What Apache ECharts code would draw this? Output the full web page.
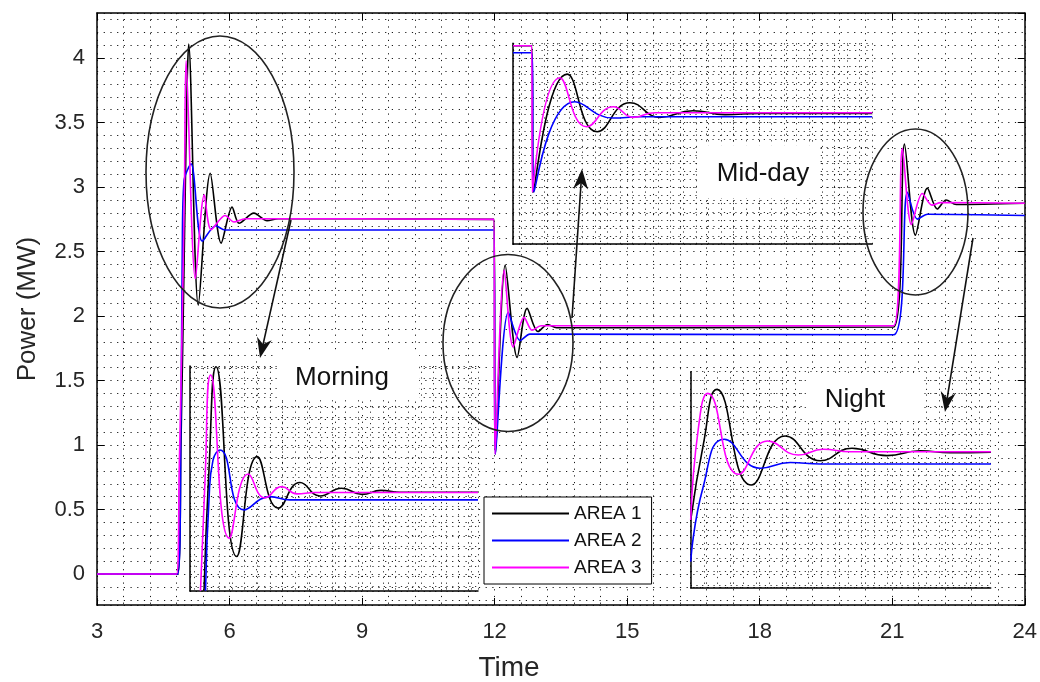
<!DOCTYPE html>
<html><head><meta charset="utf-8">
<script src="https://cdn.jsdelivr.net/npm/echarts@6/dist/echarts.min.js"></script>
<style>html,body{margin:0;padding:0;background:#fff}#c{width:1040px;height:682px}</style>
</head><body><div id="c"></div>
<script>
// ---------- data ----------
const seriesNames = ['AREA 1', 'AREA 2', 'AREA 3'];
const seriesColors = ['#000000', '#0000ff', '#ff00ff'];
const xTitle = 'Time';
const yTitle = 'Power (MW)';
const xMin = 3, xMax = 24, xStep = 3;
const yMin = -0.24, yMax = 4.35;
const labelMorning = 'Morning', labelMidday = 'Mid-day', labelNight = 'Night';

// main chart series [time, MW]
const area1Main = [[3,0],[4.82,0],[4.90,1.0],[4.98,2.6],[5.04,3.8],[5.075,4.11],[5.293,2.085],[5.563,3.108],[5.81,2.566],[6.058,2.845],[6.215,2.72],[6.552,2.798],[6.85,2.74],[7.1,2.755],[11.98,2.75],[12.02,0.93],[12.24,2.395],[12.51,1.68],[12.735,2.06],[12.98,1.88],[13.2,1.935],[13.4,1.91],[21.03,1.915],[21.278,3.333],[21.525,2.628],[21.795,2.992],[22.02,2.83],[22.22,2.90],[22.45,2.865],[24,2.875]];
const area2Main = [[3,0],[4.83,0],[4.90,1.2],[4.93,2.5],[4.97,3.05],[5.13,3.18],[5.383,2.58],[5.69,2.70],[5.9,2.667],[11.98,2.667],[12.02,0.93],[12.31,2.03],[12.58,1.81],[12.8,1.86],[21.03,1.855],[21.345,2.96],[21.57,2.752],[21.8,2.79],[24,2.78]];
const area3Main = [[3,0],[4.80,0],[4.86,0.8],[4.92,1.8],[4.98,3.0],[5.016,3.98],[5.226,2.29],[5.428,2.94],[5.585,2.67],[5.90,2.78],[6.10,2.73],[6.35,2.755],[11.98,2.75],[12.01,0.93],[12.218,2.357],[12.42,1.76],[12.667,1.99],[12.85,1.89],[13.05,1.925],[21.03,1.925],[21.23,3.30],[21.435,2.71],[21.68,2.95],[21.9,2.86],[22.1,2.88],[24,2.875]];

// morning inset (zoom of the 5 h transient)
const area1Morning = [[4.917,1.752],[4.976,2.972],[5.06,4.013],[5.306,2.098],[5.551,3.106],[5.801,2.586],[6.06,2.844],[6.298,2.709],[6.556,2.787],[6.798,2.725],[7.024,2.765],[7.25,2.747],[8.18,2.747]];
const area2Morning = [[4.935,1.752],[4.976,2.669],[5.024,3.07],[5.107,3.173],[5.393,2.568],[5.702,2.702],[5.94,2.669],[8.18,2.669]];
const area3Morning = [[4.875,1.752],[4.929,2.871],[4.996,3.929],[5.218,2.283],[5.444,2.931],[5.643,2.689],[5.842,2.803],[6.024,2.730],[6.238,2.743],[8.18,2.743]];

// mid-day inset (zoom of the 12 h transient)
const area1Midday = [[11.85,2.75],[11.998,2.75],[12.012,0.944],[12.28,2.40],[12.518,1.688],[12.778,2.046],[13.016,1.866],[13.278,1.948],[13.532,1.90],[13.81,1.915],[14.7,1.915]];
const area2Midday = [[11.85,2.664],[11.998,2.664],[12.016,0.944],[12.341,2.059],[12.643,1.857],[12.857,1.873],[14.7,1.873]];
const area3Midday = [[11.85,2.75],[11.998,2.75],[12.004,0.944],[12.222,2.355],[12.434,1.75],[12.645,1.997],[12.804,1.866],[12.976,1.923],[14.7,1.923]];

// night inset (zoom of the 21 h transient)
const area1Night = [[21.1,2.376],[21.198,2.936],[21.3,3.330],[21.562,2.632],[21.821,2.990],[22.089,2.809],[22.331,2.900],[22.598,2.846],[22.852,2.882],[23.08,2.867],[23.392,2.871]];
const area2Night = [[21.1,2.072],[21.195,2.617],[21.356,2.966],[21.631,2.754],[21.86,2.796],[22.089,2.785],[23.392,2.785]];
const area3Night = [[21.1,2.376],[21.16,3.057],[21.231,3.301],[21.465,2.710],[21.686,2.953],[21.921,2.851],[22.111,2.893],[22.318,2.875],[23.392,2.875]];

// ---------- chart ----------
const FONT = '"Liberation Sans", Arial, sans-serif';
const dotMain = {type:[1.2,5.5], color:'#000', width:1, opacity:0.9};
const dotInset = {type:[1.2,4.5], color:'#000', width:1, opacity:0.8};
const frameLine = {color:'#000', width:1.5};

function mainX(pos, labels){
  return {gridIndex:0, type:'value', position:pos, min:xMin, max:xMax, interval:xStep,
    axisLine:{show:true, onZero:false, lineStyle:frameLine},
    axisTick:{show:true, inside:true, length:7, lineStyle:{color:'#000', width:1}},
    axisLabel:{show:labels, margin:16, fontSize:22, color:'#262626', fontFamily:FONT},
    splitLine:{show:labels, lineStyle:dotMain},
    minorTick:{show:false, splitNumber:5},
    minorSplitLine:{show:labels, lineStyle:dotMain}};
}
function mainY(pos, labels){
  return {gridIndex:0, type:'value', position:pos, min:yMin, max:yMax, splitNumber:9,
    axisLine:{show:true, onZero:false, lineStyle:frameLine},
    axisTick:{show:true, inside:true, length:7, lineStyle:{color:'#000', width:1}},
    axisLabel:{show:labels, margin:12, fontSize:22, color:'#262626', fontFamily:FONT, showMinLabel:false, showMaxLabel:false},
    splitLine:{show:labels, lineStyle:dotMain},
    minorTick:{show:false, splitNumber:5},
    minorSplitLine:{show:labels, lineStyle:dotMain}};
}
function insetAxis(kind, g, mn, mx, sn){
  return {gridIndex:g, type:'value', min:mn, max:mx, splitNumber:sn,
    axisLine:{show:true, onZero:false, lineStyle:frameLine},
    axisTick:{show:false}, axisLabel:{show:false},
    splitLine:{show:true, lineStyle:dotInset},
    minorTick:{show:false, splitNumber:2},
    minorSplitLine:{show:true, lineStyle:dotInset}};
}
function line(i, data, xi, yi, smooth){
  return {name:seriesNames[i], type:'line', xAxisIndex:xi, yAxisIndex:yi, data:data,
    showSymbol:false, symbol:'none', smooth:smooth, clip:true,
    lineStyle:{color:seriesColors[i], width:1.6}, itemStyle:{color:seriesColors[i]}, z:3};
}
function arrow(x1,y1,x2,y2){
  const dx=x2-x1, dy=y2-y1, L=Math.hypot(dx,dy), ux=dx/L, uy=dy/L, hl=20, hw=7.5;
  const bx=x2-ux*hl, by=y2-uy*hl;
  return [
    {type:'line', shape:{x1:x1,y1:y1,x2:bx+ux*6,y2:by+uy*6}, style:{stroke:'#111', lineWidth:1.6}, z:60},
    {type:'polygon', shape:{points:[[x2,y2],[bx-uy*hw,by+ux*hw],[bx+ux*6,by+uy*6],[bx+uy*hw,by-ux*hw]]}, style:{fill:'#111'}, z:60}
  ];
}
function box(x,y,w,h,text,tx,ty){
  return [
    {type:'rect', shape:{x:x,y:y,width:w,height:h}, style:{fill:'#fff'}, z:70},
    {type:'text', x:tx, y:ty, style:{text:text, fill:'#111', font:'26px '+FONT, align:'center', verticalAlign:'middle'}, z:71}
  ];
}
function ell(cx,cy,rx,ry){
  return {type:'ellipse', shape:{cx:cx,cy:cy,rx:rx,ry:ry}, style:{fill:'none', stroke:'#222', lineWidth:1.6}, z:55};
}

const chart = echarts.init(document.getElementById('c'), null, {renderer:'canvas'});
const option = {
  animation:false,
  backgroundColor:'#fff',
  grid:[
    {left:97, right:9, top:13, bottom:77},
    {left:190, top:366, width:288, height:225},
    {left:513, top:43.3, width:359.2, height:200.9},
    {left:690.7, top:371.7, width:300, height:216}
  ],
  xAxis:[
    mainX('bottom', true), mainX('top', false),
    insetAxis('x',1,4.75,8.18,11), insetAxis('x',2,11.85,14.7,14), insetAxis('x',3,21.1,23.39,14)
  ],
  yAxis:[
    Object.assign(mainY('left', true), {name:yTitle, nameLocation:'middle', nameGap:56,
      nameTextStyle:{fontSize:26, color:'#262626', fontFamily:FONT}}),
    mainY('right', false),
    insetAxis('y',1,1.75,4.02,10), insetAxis('y',2,0.3,2.78,10), insetAxis('y',3,1.882,3.459,10)
  ],
  legend:{data:seriesNames.map(function(n){return {name:n, icon:'rect'};}), orient:'vertical', left:484, top:497,
    itemWidth:77, itemHeight:2, itemGap:8,
    padding:[7,10,7,8], backgroundColor:'#fff', borderColor:'#000', borderWidth:1, borderRadius:0,
    selectedMode:false, textStyle:{fontSize:19, fontFamily:FONT, color:'#111', lineHeight:18}, z:80},
  series:[
    line(0, area1Main, 0, 0, 0.3), line(1, area2Main, 0, 0, 0.3), line(2, area3Main, 0, 0, 0.3),
    line(0, area1Morning, 2, 2, 0.5), line(1, area2Morning, 2, 2, 0.5), line(2, area3Morning, 2, 2, 0.5),
    line(0, area1Midday, 3, 3, 0.5), line(1, area2Midday, 3, 3, 0.5), line(2, area3Midday, 3, 3, 0.5),
    line(0, area1Night, 4, 4, 0.5), line(1, area2Night, 4, 4, 0.5), line(2, area3Night, 4, 4, 0.5)
  ],
  graphic:[].concat(
    [ell(220,172,74,136), ell(508,343,65,88.5), ell(915.5,212,52.5,83)],
    arrow(291,220,260,358), arrow(572,318,582,169), arrow(973,238,945,412),
    box(277,352,142,47,labelMorning,342,378),
    box(698,146,122,52,labelMidday,763,174),
    box(807,373,117,47,labelNight,855,400),
    [{type:'text', x:509, y:668, style:{text:xTitle, fill:'#262626', font:'28px '+FONT, align:'center', verticalAlign:'middle'}, z:71}]
  )
};
chart.setOption(option);
</script></body></html>
